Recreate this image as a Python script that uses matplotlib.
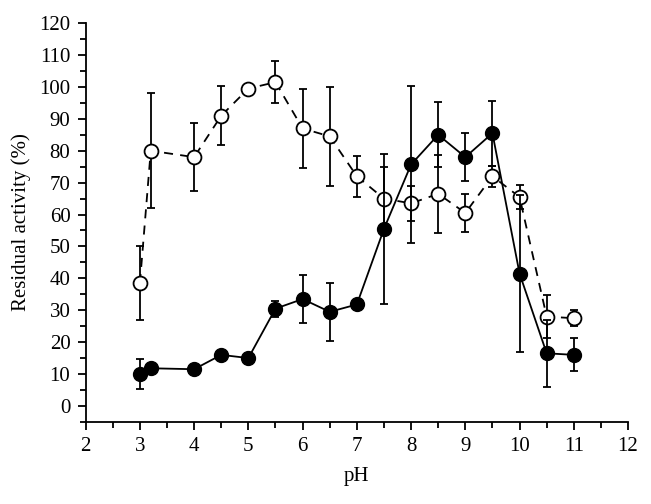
import numpy as np
import matplotlib.pyplot as plt
from matplotlib.ticker import MultipleLocator

# pH values (same for both series)
ph = [3, 3.2, 4, 4.5, 5, 5.5, 6, 6.5, 7, 7.5, 8, 8.5, 9, 9.5, 10, 10.5, 11]

# open circles, dashed line
open_act = [38.5, 80, 78, 91, 99.5, 101.5, 87, 84.5, 72, 65, 63.5, 66.5, 60.5, 72, 65.5, 28, 27.5]
open_err = [11.7, 18, 10.6, 9.2, 1.0, 6.5, 12.4, 15.5, 6.5, 10, 5.6, 12.2, 6.0, 3.3, 3.8, 6.7, 2.5]

# filled circles, solid line
filled_act = [10, 11.8, 11.5, 16, 15, 30.5, 33.5, 29.5, 31.8, 55.5, 75.7, 85, 78, 85.5, 41.5, 16.5, 16]
filled_err = [4.7, 0, 0, 1.0, 0.5, 2.5, 7.4, 9.0, 1.0, 23.5, 24.7, 10.2, 7.5, 10.2, 24.5, 10.5, 5.2]

plt.rcParams['font.family'] = ['Liberation Serif', 'DejaVu Serif']

fig = plt.figure(figsize=(6.51, 5.04), dpi=100)
ax = fig.add_axes([0.1316, 0.163, 0.8331, 0.791])

ax.errorbar(ph, open_act, yerr=open_err, color='black', linestyle=(0, (5, 4)),
            linewidth=1.3, marker='o', markersize=10, markerfacecolor='white',
            markeredgecolor='black', markeredgewidth=1.3, capsize=2.6,
            elinewidth=1.3, capthick=1.3, zorder=3)
ax.errorbar(ph, filled_act, yerr=filled_err, color='black', linestyle='-',
            linewidth=1.3, marker='o', markersize=10, markerfacecolor='black',
            markeredgecolor='black', capsize=2.6, elinewidth=1.3, capthick=1.3,
            zorder=4)

ax.set_xlim(2, 12)
ax.set_ylim(-5, 120)
ax.xaxis.set_major_locator(MultipleLocator(1))
ax.xaxis.set_minor_locator(MultipleLocator(0.5))
ax.yaxis.set_major_locator(MultipleLocator(10))
ax.yaxis.set_minor_locator(MultipleLocator(5))
ax.set_yticks(np.arange(0, 121, 10))

for s in ['top', 'right']:
    ax.spines[s].set_visible(False)
for s in ['left', 'bottom']:
    ax.spines[s].set_linewidth(1.3)

ax.tick_params(which='major', direction='out', length=6, width=1.3, labelsize=15, pad=5)
ax.tick_params(which='minor', direction='out', length=4, width=1.3)

ax.set_xlabel('pH', fontsize=15, labelpad=8)
ax.set_ylabel('Residual activity (%)', fontsize=15, labelpad=6)

fig.savefig('out.png', dpi=100)
